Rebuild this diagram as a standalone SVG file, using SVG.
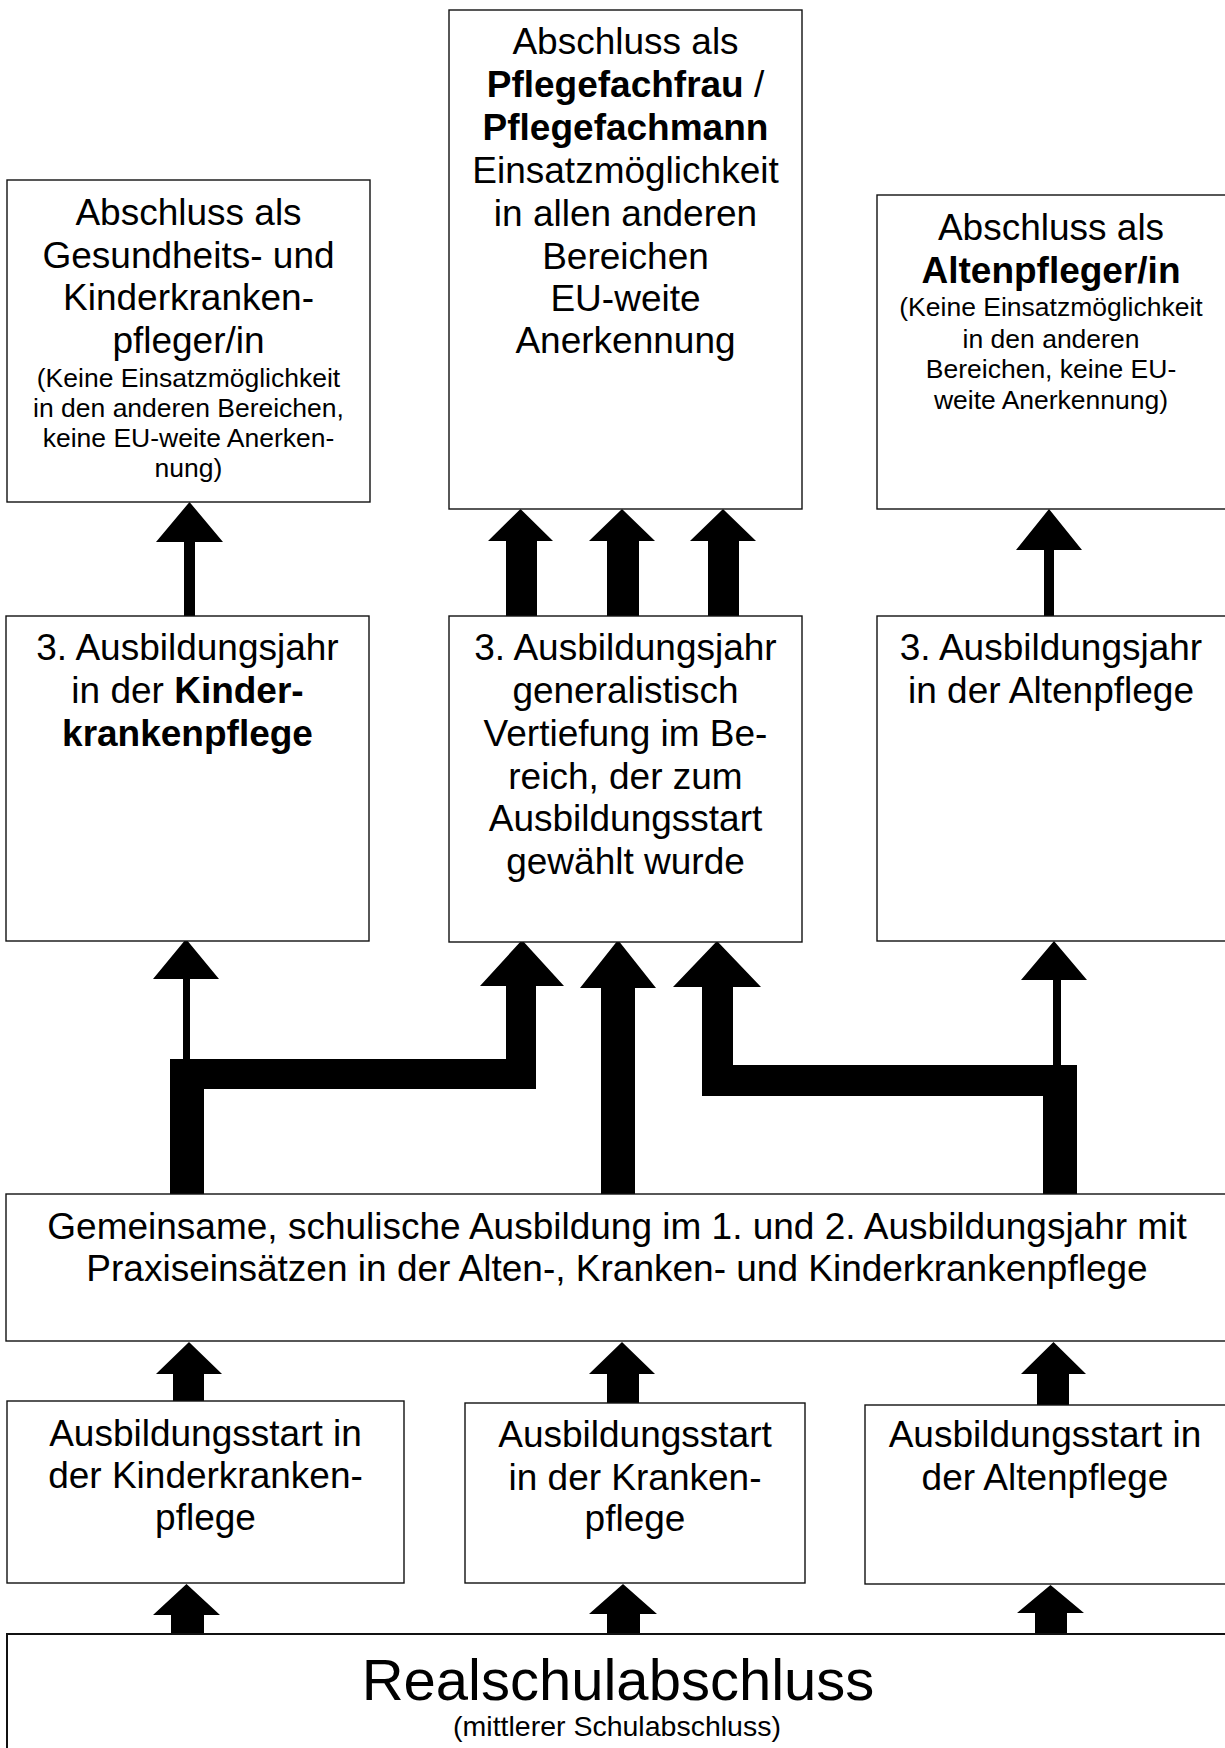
<svg xmlns="http://www.w3.org/2000/svg" width="1225" height="1748" viewBox="0 0 1225 1748">
<style>
.box{fill:#fff;stroke:#111;stroke-width:1.4}
text{font-family:"Liberation Sans",Arial,sans-serif;fill:#000;text-anchor:middle}
.t{font-size:37px}
.s{font-size:26.5px}
.b{font-weight:bold}
.con{fill:#000;stroke:none}
</style>
<rect width="1225" height="1748" fill="#fff"/>

<g id="connectors">
  <!-- row 2 -> top row -->
  <path class="con" d="M184,616 V542 H156 L189.5,502 L223,542 H195 V616 Z"/>
  <path class="con" d="M506,616 V541 H488 L520.5,509 L553,541 H537 V616 Z"/>
  <path class="con" d="M607,616 V541 H589 L622,509 L655,541 H639 V616 Z"/>
  <path class="con" d="M708,616 V541 H690 L723,509 L756,541 H739 V616 Z"/>
  <path class="con" d="M1044,616 V550 H1016 L1049,509 L1082,550 H1054 V616 Z"/>
  <!-- common -> row 2 -->
  <path class="con" d="M183,1062 V979 H153 L186,939 L219,979 H190 V1062 Z"/>
  <path class="con" d="M170,1194 V1059 H506 V986 H480 L522,940 L564,986 H536 V1089 H204 V1194 Z"/>
  <path class="con" d="M601,1194 V988 H580 L618,940 L656,988 H635 V1194 Z"/>
  <path class="con" d="M1043,1194 V1096 H702 V987 H673 L717,941 L761,987 H733 V1065 H1077 V1194 Z"/>
  <path class="con" d="M1053,1066 V980 H1021 L1054,941 L1087,980 H1061 V1066 Z"/>
  <!-- row 3 -> common -->
  <path class="con" d="M173,1401 V1374 H156 L189,1342 L222,1374 H204 V1401 Z"/>
  <path class="con" d="M607,1403 V1374 H589 L622,1342 L655,1374 H639 V1403 Z"/>
  <path class="con" d="M1037,1405 V1374 H1021 L1053.5,1342 L1086,1374 H1069 V1405 Z"/>
  <!-- Realschul -> row 3 -->
  <path class="con" d="M171,1634 V1615 H153 L186.5,1584 L220,1615 H204 V1634 Z"/>
  <path class="con" d="M607,1634 V1614 H589 L623,1584 L657,1614 H640 V1634 Z"/>
  <path class="con" d="M1035,1634 V1613 H1017 L1050.5,1585 L1084,1613 H1067 V1634 Z"/>
</g>

<g id="abschluss-gkp">
  <rect class="box" x="7" y="180" width="363" height="322"/>
  <text class="t" x="188.5" y="225">Abschluss als</text>
  <text class="t" x="188.5" y="268">Gesundheits- und</text>
  <text class="t" x="188.5" y="310">Kinderkranken-</text>
  <text class="t" x="188.5" y="353">pfleger/in</text>
  <text class="s" x="188.5" y="387">(Keine Einsatzmöglichkeit</text>
  <text class="s" x="188.5" y="417">in den anderen Bereichen,</text>
  <text class="s" x="188.5" y="447">keine EU-weite Anerken-</text>
  <text class="s" x="188.5" y="477">nung)</text>
</g>

<g id="abschluss-pflegefach">
  <rect class="box" x="449" y="10" width="353" height="499"/>
  <text class="t" x="625.5" y="54">Abschluss als</text>
  <text class="t" x="625.5" y="97"><tspan class="b">Pflegefachfrau</tspan> /</text>
  <text class="t b" x="625.5" y="140">Pflegefachmann</text>
  <text class="t" x="625.5" y="183">Einsatzmöglichkeit</text>
  <text class="t" x="625.5" y="226">in allen anderen</text>
  <text class="t" x="625.5" y="269">Bereichen</text>
  <text class="t" x="625.5" y="311">EU-weite</text>
  <text class="t" x="625.5" y="353">Anerkennung</text>
</g>

<g id="abschluss-alten">
  <rect class="box" x="877" y="195" width="360" height="314"/>
  <text class="t" x="1051" y="240">Abschluss als</text>
  <text class="t b" x="1051" y="283">Altenpfleger/in</text>
  <text class="s" x="1051" y="316">(Keine Einsatzmöglichkeit</text>
  <text class="s" x="1051" y="348">in den anderen</text>
  <text class="s" x="1051" y="378">Bereichen, keine EU-</text>
  <text class="s" x="1051" y="409">weite Anerkennung)</text>
</g>

<g id="jahr3-kinder">
  <rect class="box" x="6" y="616" width="363" height="325"/>
  <text class="t" x="187.5" y="660">3. Ausbildungsjahr</text>
  <text class="t" x="187.5" y="703">in der <tspan class="b">Kinder-</tspan></text>
  <text class="t b" x="187.5" y="746">krankenpflege</text>
</g>

<g id="jahr3-general">
  <rect class="box" x="449" y="616" width="353" height="326"/>
  <text class="t" x="625.5" y="660">3. Ausbildungsjahr</text>
  <text class="t" x="625.5" y="703">generalistisch</text>
  <text class="t" x="625.5" y="746">Vertiefung im Be-</text>
  <text class="t" x="625.5" y="789">reich, der zum</text>
  <text class="t" x="625.5" y="831">Ausbildungsstart</text>
  <text class="t" x="625.5" y="874">gewählt wurde</text>
</g>

<g id="jahr3-alten">
  <rect class="box" x="877" y="616" width="360" height="325"/>
  <text class="t" x="1051" y="660">3. Ausbildungsjahr</text>
  <text class="t" x="1051" y="703">in der Altenpflege</text>
</g>

<g id="gemeinsam">
  <rect class="box" x="6" y="1194" width="1230" height="147"/>
  <text class="t" x="617" y="1239">Gemeinsame, schulische Ausbildung im 1. und 2. Ausbildungsjahr mit</text>
  <text class="t" x="617" y="1281">Praxiseinsätzen in der Alten-, Kranken- und Kinderkrankenpflege</text>
</g>

<g id="start-kinder">
  <rect class="box" x="7" y="1401" width="397" height="182"/>
  <text class="t" x="205.5" y="1446">Ausbildungsstart in</text>
  <text class="t" x="205.5" y="1488">der Kinderkranken-</text>
  <text class="t" x="205.5" y="1530">pflege</text>
</g>

<g id="start-kranken">
  <rect class="box" x="465" y="1403" width="340" height="180"/>
  <text class="t" x="635" y="1447">Ausbildungsstart</text>
  <text class="t" x="635" y="1490">in der Kranken-</text>
  <text class="t" x="635" y="1531">pflege</text>
</g>

<g id="start-alten">
  <rect class="box" x="865" y="1405" width="372" height="179"/>
  <text class="t" x="1045" y="1447">Ausbildungsstart in</text>
  <text class="t" x="1045" y="1490">der Altenpflege</text>
</g>

<g id="realschulabschluss">
  <rect class="box" x="7" y="1634" width="1230" height="130" style="stroke-width:2"/>
  <text x="618" y="1700" style="font-size:58px">Realschulabschluss</text>
  <text x="617" y="1736" style="font-size:28.5px">(mittlerer Schulabschluss)</text>
</g>
</svg>
